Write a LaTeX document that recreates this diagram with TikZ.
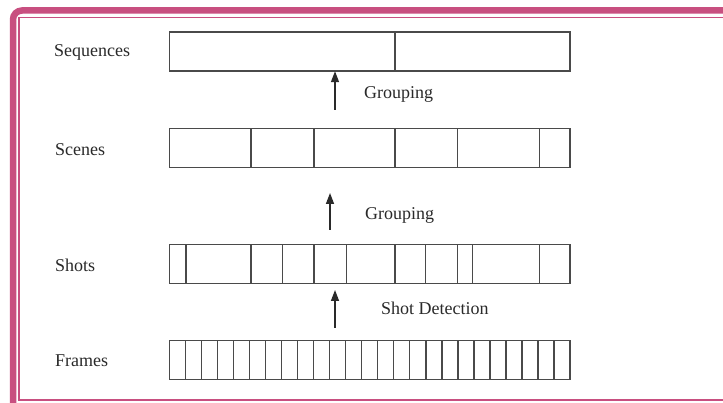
\documentclass[tikz,border=0pt]{standalone}
\usepackage{fontspec}
\setmainfont{Liberation Serif}
\usetikzlibrary{arrows.meta}
\definecolor{framepink}{HTML}{C84F80}
\definecolor{barline}{HTML}{4A4A4A}
\definecolor{ink}{HTML}{2A2A2A}
\tikzset{
  bar/.style={draw=barline, line width=1.5pt, rectangle, minimum width=400.7pt,
    minimum height=39pt, inner sep=0pt, outer sep=0pt},
  divider/.style={draw=barline, line width=1.5pt},
  levellabel/.style={anchor=base west, inner sep=0pt, text=ink, font=\fontsize{18}{20}\selectfont},
  steplabel/.style={anchor=base west, inner sep=0pt, text=ink, font=\fontsize{18}{20}\selectfont},
  uparrow/.style={draw=ink, line width=1.4pt, -{Triangle[length=11pt,width=8pt]}}
}
\begin{document}
\begin{tikzpicture}[x=1pt, y=-1pt]
  \useasboundingbox (0,0) rectangle (723,403);
  \fill[white] (0,0) rectangle (723,403);

  % double pink frame
  \draw[framepink, line width=6.5pt, rounded corners=9pt] (13,410) -- (13,10.5) -- (730,10.5);
  \draw[framepink, line width=1.6pt] (730,17.5) -- (19,17.5) -- (19,400) -- (730,400);

  % level bars
  \node[bar] (seq)  at (369.65,51.7)  {};
  \node[bar] (scn)  at (369.65,148)   {};
  \node[bar] (sht)  at (369.65,263.8) {};
  \node[bar] (frm)  at (369.65,360.2) {};

  % dividers in each bar (offsets from the left edge)
  \foreach \o in {225.7}
    \draw[divider] ([xshift=\o pt]seq.north west) -- ([xshift=\o pt]seq.south west);
  \foreach \o in {81.5,144.7,225.7,288.4,370}
    \draw[divider] ([xshift=\o pt]scn.north west) -- ([xshift=\o pt]scn.south west);
  \foreach \o in {16.7,81.5,113.4,144.7,177.4,225.7,256.4,288.4,303.4,370}
    \draw[divider] ([xshift=\o pt]sht.north west) -- ([xshift=\o pt]sht.south west);
  \foreach \k in {1,...,24}
    \draw[divider] ([xshift=\k*16.028pt]frm.north west) -- ([xshift=\k*16.028pt]frm.south west);

  % level names
  \node[levellabel] (lseq) at (54,56.5)  {Sequences};
  \node[levellabel] (lscn) at (55,156)   {Scenes};
  \node[levellabel] (lsht) at (55,272)   {Shots};
  \node[levellabel] (lfrm) at (55,366.5) {Frames};

  % arrows between levels
  \coordinate (a1) at (335,110);
  \coordinate (a2) at (330,230);
  \coordinate (a2t) at (330,193);
  \coordinate (a3) at (335,328);
  \coordinate (a3t) at (335,290);
  \draw[uparrow] (a1) -- (seq.south -| a1);
  \draw[uparrow] (a2) -- (a2t);
  \draw[uparrow] (a3) -- (a3t);

  % step names
  \node[steplabel] (g1) at (364,98.5)  {Grouping};
  \node[steplabel] (g2) at (365,220)   {Grouping};
  \node[steplabel] (sd) at (381,315)   {Shot Detection};
\end{tikzpicture}
\end{document}
